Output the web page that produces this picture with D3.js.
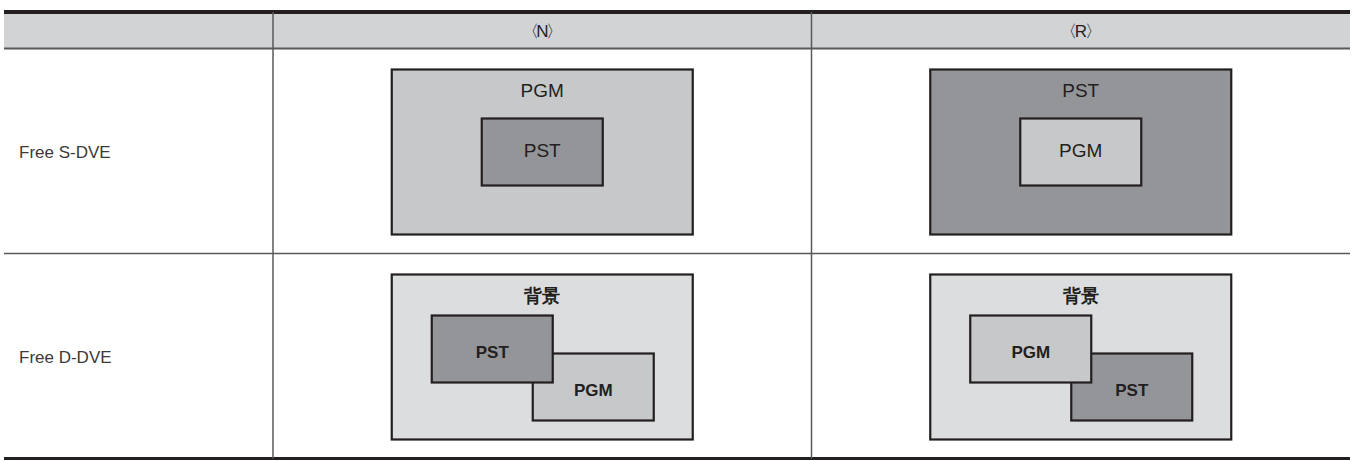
<!DOCTYPE html>
<html><head><meta charset="utf-8">
<script src="https://cdn.jsdelivr.net/npm/d3@7"></script>
<style>
html,body{margin:0;padding:0;background:#fff;}
svg{display:block;}
text{font-family:"Liberation Sans",Arial,Helvetica,sans-serif;fill:#231f20;}
</style></head><body>
<script>
// ---- data ----
const columns = ["〈N〉", "〈R〉"];
const rows = ["Free S-DVE", "Free D-DVE"];
const bgLabel = "背景";
// S-DVE: [outer label, inner label] per column
const sdveLabels = [["PGM", "PST"], ["PST", "PGM"]];
// D-DVE: [back-left box, front-right box] per column
const ddveLabels = [["PST", "PGM"], ["PGM", "PST"]];

// ---- styles ----
const colors = {PGM: "#c7c8ca", PST: "#939598", bg: "#dcdddf", header: "#d1d3d4", ink: "#231f20", grid: "#58595b"};

const W = 1355, H = 461;
const svg = d3.select("body").append("svg").attr("width", W).attr("height", H);

const tLeft = 4, tRight = 1350, tTop = 12, headBottom = 48.5, tBottom = 458.5, labelColW = 269;

const xCol = d3.scaleBand().domain(columns).range([tLeft + labelColW, tRight]);
const yRow = d3.scaleBand().domain(rows).range([headBottom, tBottom]);

// header background
svg.append("rect").attr("x", tLeft).attr("y", tTop).attr("width", tRight - tLeft).attr("height", headBottom - tTop).attr("fill", colors.header);

// header text (full-width CJK brackets tightened with letter-spacing)
svg.selectAll("text.col").data(columns).join("text").attr("class", "col")
  .attr("x", d => xCol(d) + xCol.bandwidth() / 2 - 1).attr("y", 37)
  .attr("text-anchor", "middle").attr("font-size", 17)
  .style("letter-spacing", "-2.5px").text(d => d);

// row labels
svg.selectAll("text.row").data(rows).join("text").attr("class", "row")
  .attr("x", 19).attr("y", d => yRow(d) + yRow.bandwidth() / 2 + 7)
  .attr("font-size", 17).style("fill", "#3a3a3a").text(d => d);

// cell geometry: box in a unit space of 301 x 165 centered in each cell
const boxW = 301, boxH = 165;
function cellScales(col, row) {
  const cx = xCol(col) + xCol.bandwidth() / 2;
  const y0 = yRow(row) + 21;
  const x0 = cx - boxW / 2;
  return {
    x: d3.scaleLinear().domain([0, boxW]).range([x0, x0 + boxW]),
    y: d3.scaleLinear().domain([0, boxH]).range([y0, y0 + boxH])
  };
}
function box(g, s, x, y, w, h, fill) {
  g.append("rect").attr("x", s.x(x)).attr("y", s.y(y))
    .attr("width", s.x(x + w) - s.x(x)).attr("height", s.y(y + h) - s.y(y))
    .attr("fill", fill).attr("stroke", colors.ink).attr("stroke-width", 2.2);
}
function label(g, s, x, y, t, size, bold) {
  g.append("text").attr("x", s.x(x)).attr("y", s.y(y)).attr("text-anchor", "middle")
    .attr("font-size", size).attr("font-weight", bold ? "bold" : "normal").text(t);
}

columns.forEach((col, i) => {
  // S-DVE
  let s = cellScales(col, rows[0]);
  let g = svg.append("g");
  const [outer, inner] = sdveLabels[i];
  box(g, s, 0, 0, boxW, boxH, colors[outer]);
  label(g, s, boxW / 2, 27, outer, 19, false);
  box(g, s, 90, 49, 121, 67, colors[inner]);
  label(g, s, 150.5, 87.5, inner, 19, false);

  // D-DVE
  s = cellScales(col, rows[1]);
  g = svg.append("g");
  const [a, b] = ddveLabels[i];
  box(g, s, 0, 0, boxW, boxH, colors.bg);
  label(g, s, boxW / 2, 27, bgLabel, 18, true);
  box(g, s, 141, 79, 121, 67, colors[b]);
  box(g, s, 40, 41, 121, 67, colors[a]);
  label(g, s, 100.5, 83.3, a, 17, true);
  label(g, s, 201.5, 121, b, 17, true);
});

// grid lines
svg.append("line").attr("x1", tLeft).attr("x2", tRight).attr("y1", tTop).attr("y2", tTop).attr("stroke", colors.ink).attr("stroke-width", 4);
svg.append("line").attr("x1", tLeft).attr("x2", tRight).attr("y1", headBottom).attr("y2", headBottom).attr("stroke", colors.grid).attr("stroke-width", 2);
svg.append("line").attr("x1", tLeft).attr("x2", tRight).attr("y1", yRow(rows[1])).attr("y2", yRow(rows[1])).attr("stroke", colors.grid).attr("stroke-width", 1.5);
svg.append("line").attr("x1", tLeft).attr("x2", tRight).attr("y1", tBottom).attr("y2", tBottom).attr("stroke", colors.ink).attr("stroke-width", 3);
[xCol(columns[0]), xCol(columns[1])].forEach(x => {
  svg.append("line").attr("x1", x).attr("x2", x).attr("y1", tTop).attr("y2", tBottom).attr("stroke", colors.grid).attr("stroke-width", 1.5);
});
</script>
</body></html>
